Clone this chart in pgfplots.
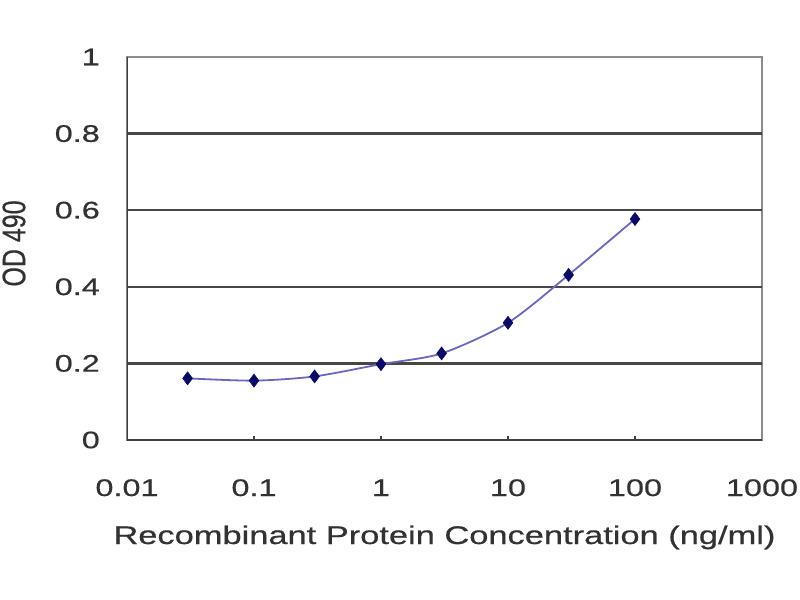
\documentclass[border=0pt]{standalone}
\usepackage{fontspec}
\setmainfont[FakeStretch=1.35,FakeBold=0.6]{Liberation Sans}
\newfontfamily\plainfont[FakeBold=0.6]{Liberation Sans}
\usepackage{pgfplots}
\pgfplotsset{compat=1.18}
\definecolor{linecol}{RGB}{105,105,185}
\definecolor{markcol}{RGB}{10,10,100}
\definecolor{txt}{RGB}{50,50,50}
\begin{document}
\begin{tikzpicture}
\path[use as bounding box] (-127bp,-160bp) rectangle (673bp,440bp);
\begin{axis}[
  at={(0,0)}, anchor=south west,
  scale only axis, width=635bp, height=383bp,
  xmode=log, xmin=0.01, xmax=1000, ymin=0, ymax=1,
  xtick={0.01,0.1,1,10,100,1000},
  xticklabels={0.01,0.1,1,10,100,1000},
  ytick={0,0.2,0.4,0.6,0.8,1},
  yticklabels={0,0.2,0.4,0.6,0.8,1},
  xminorticks=false, yminorticks=false,
  xtick pos=bottom, ytick pos=left,
  tick align=inside, major tick length=4bp,
  tick style={black!75, line width=1.2bp},
  extra y ticks={0.2,0.4,0.6,0.8},
  extra y tick labels={},
  extra y tick style={grid=major, major tick length=0pt},
  major grid style={black!72, line width=2.2bp},
  axis line style={draw=black!45, line width=1.2bp},
  ticklabel style={font=\fontsize{24bp}{28bp}\selectfont, text=txt},
  xticklabel style={anchor=base, inner sep=0pt, yshift=-56bp},
  yticklabel style={anchor=east, inner sep=0pt, xshift=-27bp},
  xlabel={Recombinant Protein Concentration (ng/ml)},
  ylabel={OD 490},
  xlabel style={at={([yshift=-104bp]axis description cs:0.5,0)}, anchor=base,
    font=\fontsize{25.5bp}{28bp}\selectfont, text=txt, inner sep=0pt},
  ylabel style={at={([xshift=-113bp,yshift=5bp]axis description cs:0,0.5)}, anchor=center,
    font=\plainfont\fontsize{25bp}{28bp}\selectfont, text=txt, inner sep=0pt,
    rotate=-90, xscale=1.3, rotate=90},
]
\addplot[color=linecol, line width=1.8bp, smooth, tension=0.45,
  mark=diamond*, mark size=6.5bp, mark options={fill=markcol, draw=markcol, line width=0.6bp}]
  coordinates {(0.03,0.161)(0.1,0.155)(0.3,0.166)(1,0.198)(3,0.226)(10,0.306)(30,0.431)(100,0.577)};
\draw[black!75, line width=1.6bp] (rel axis cs:0,1) -- (rel axis cs:0,0) -- (rel axis cs:1,0);
\end{axis}
\end{tikzpicture}
\end{document}
